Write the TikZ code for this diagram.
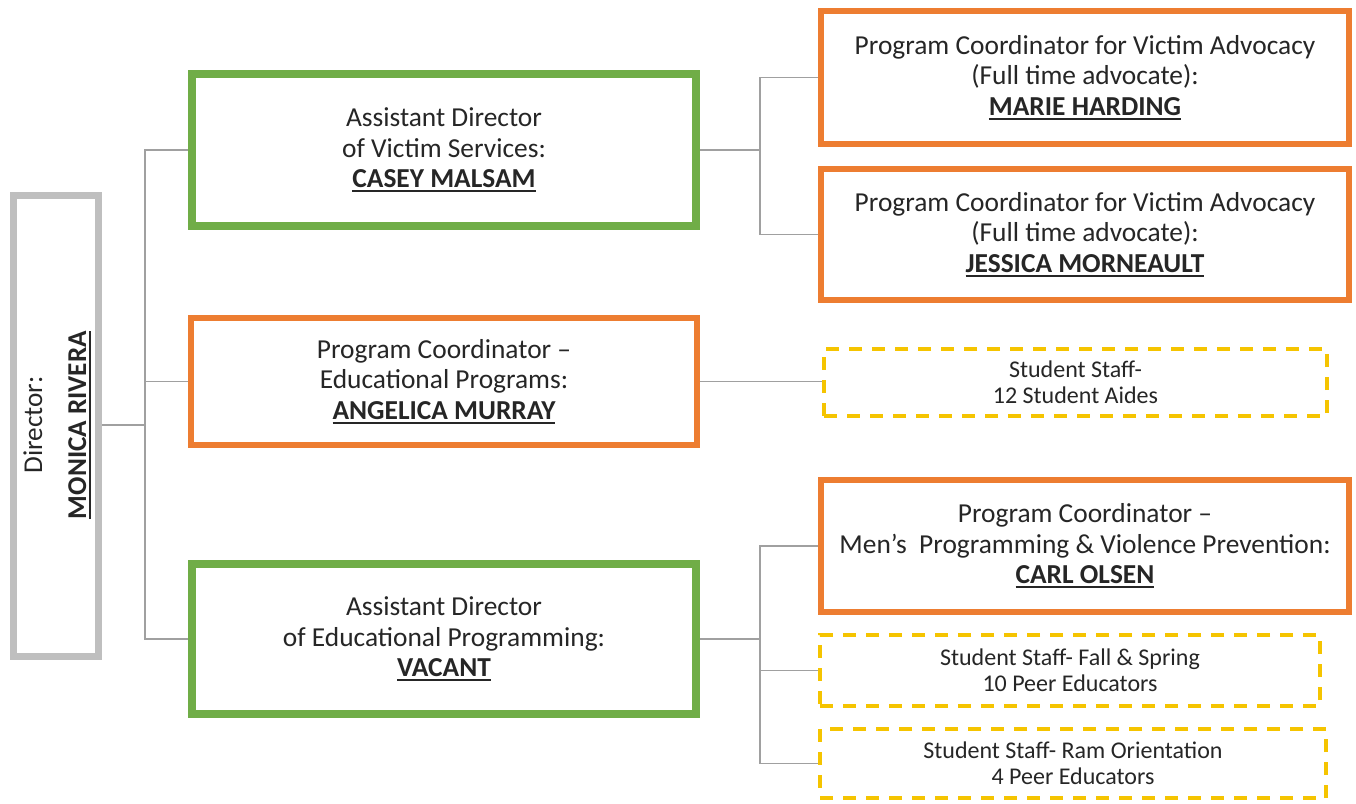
\documentclass[tikz,border=0pt]{standalone}
\usepackage{fontspec}
\setmainfont{Carlito}
\usetikzlibrary{backgrounds}
\definecolor{cgreen}{HTML}{70AD47}
\definecolor{corange}{HTML}{ED7D31}
\definecolor{cgold}{HTML}{F5C400}
\definecolor{cgray}{HTML}{BFBFBF}
\definecolor{cline}{HTML}{A0A0A0}
\newcommand\uname[1]{\textbf{\setbox0\hbox{#1}\rlap{\rule[-4.5pt]{\wd0}{1.8pt}}\box0}}
\begin{document}
\begin{tikzpicture}[x=1pt,y=-1pt,
  box/.style={draw, fill=white, align=center, inner sep=0pt, text=black!85, font=\fontsize{27.4}{30.5}\selectfont},
  greenbox/.style={box, draw=cgreen, line width=8pt, minimum width=504pt, minimum height=152pt},
  orangebox/.style={box, draw=corange, line width=6pt, minimum width=528pt, minimum height=132pt},
  studentbox/.style={box, draw=cgold, line width=3.5pt, dash pattern=on 13pt off 10pt, font=\fontsize{24}{26}\selectfont},
  dirbox/.style={draw=cgray, line width=7pt, minimum width=85pt, minimum height=461pt, inner sep=0pt},
  conn/.style={draw=cline, line width=1.3pt}
]
\useasboundingbox (0,0) rectangle (1356,803);

\node[dirbox] (dir) at (56,426) {};
\node[rotate=90, align=center, inner sep=0pt, text=black!85, font=\fontsize{27.2}{44}\selectfont] (dirtxt) at (57,425) {Director:\\\uname{MONICA RIVERA}};

\node[greenbox] (g1) at (444,150) {Assistant Director\\of Victim Services:\\\uname{CASEY MALSAM}};
\node[orangebox, minimum width=506pt, minimum height=127pt] (o1) at (444,381.5) {Program Coordinator --\\Educational Programs:\\\uname{ANGELICA MURRAY}};
\node[greenbox, minimum height=150pt] (g2) at (444,639) {Assistant Director\\of Educational Programming:\\\uname{VACANT}};

\node[orangebox, minimum height=133pt] (marie) at (1085,77.5) {Program Coordinator for Victim Advocacy\\(Full time advocate):\\\uname{MARIE HARDING}};
\node[orangebox, minimum height=131pt] (jess) at (1085,234.5) {Program Coordinator for Victim Advocacy\\(Full time advocate):\\\uname{JESSICA MORNEAULT}};
\node[studentbox, minimum width=503pt, minimum height=67pt] (d1) at (1075.5,382.5) {Student Staff-\\12 Student Aides};
\node[orangebox] (carl) at (1085,546) {Program Coordinator --\\Men’s\ \ Programming \& Violence Prevention:\\\uname{CARL OLSEN}};
\node[studentbox, minimum width=500pt, minimum height=71pt] (d2) at (1070,670.5) {Student Staff- Fall \& Spring\\10 Peer Educators};
\node[studentbox, minimum width=506pt, minimum height=69pt] (d3) at (1073,763.5) {Student Staff- Ram Orientation\\4 Peer Educators};

\coordinate (j1) at (145,425);
\coordinate (j2) at (760,150);
\coordinate (j3) at (760,639);

\begin{scope}[on background layer]
  \fill[white] (0,0) rectangle (1356,803);
  \draw[conn] (dir.east |- j1) -- (j1);
  \draw[conn] (j1) |- (g1.west);
  \draw[conn] (j1) |- (o1.west);
  \draw[conn] (j1) |- (g2.west);
  \draw[conn] (g1.east) -- (j2);
  \draw[conn] (j2) |- (marie.west);
  \draw[conn] (j2) |- (jess.west);
  \draw[conn] (o1.east) -- (o1.east -| d1.west);
  \draw[conn] (g2.east) -- (j3);
  \draw[conn] (j3) |- (carl.west);
  \draw[conn] (j3) |- (d2.west);
  \draw[conn] (j3) |- (d3.west);
\end{scope}
\end{tikzpicture}
\end{document}
